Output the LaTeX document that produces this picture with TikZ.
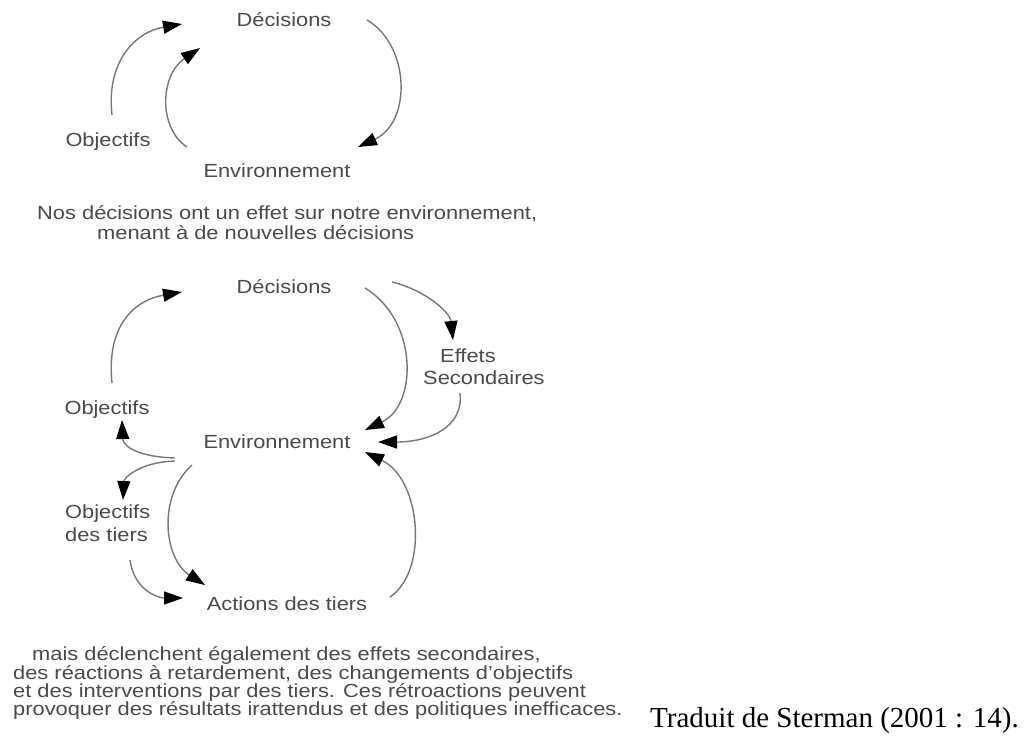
\documentclass[tikz,border=0pt]{standalone}
\usepackage{fontspec}
\usetikzlibrary{arrows.meta}
\newfontfamily\labfont{Liberation Sans}[FakeStretch=1.15]
\newfontfamily\reffont{Liberation Serif}
\definecolor{txtgray}{HTML}{4A4A4A}
\definecolor{linegray}{HTML}{777777}
\tikzset{
  lab/.style={font=\labfont\fontsize{19pt}{20pt}\selectfont, text=txtgray, inner sep=0pt},
  para/.style={lab, anchor=base west},
  flow/.style={draw=linegray, line width=1.4pt,
    -{Triangle[length=19pt,width=13pt,color=black]}},
}
\begin{document}
\begin{tikzpicture}[x=1pt,y=-1pt]
\useasboundingbox[fill=white] (0,0) rectangle (1025,740);

% ---- first loop ----
\node[lab, anchor=base] (dec1) at (284,26) {Décisions};
\node[lab, anchor=base] (obj1) at (108,146) {Objectifs};
\node[lab, anchor=base] (env1) at (277,177) {Environnement};

\coordinate (o1s) at (112,115);  \coordinate (o1e) at (182,24);
\coordinate (e1s) at (187,147);  \coordinate (e1e) at (200,48);
\coordinate (d1s) at (367,20);   \coordinate (d1e) at (358,147);
\draw[flow] (o1s) .. controls (106,62) and (135,32) .. (o1e);
\draw[flow] (e1s) .. controls (158,128) and (160,75) .. (e1e);
\draw[flow] (d1s) .. controls (410,45) and (412,122) .. (d1e);

\node[lab, anchor=base west] (cap1) at (37,219) {Nos décisions ont un effet sur notre environnement,};
\node[lab, anchor=base west] (cap2) at (97,239) {menant à de nouvelles décisions};

% ---- second loop ----
\node[lab, anchor=base] (dec2) at (284,293) {Décisions};
% base anchor of a two-line node sits on its last line
\node[lab, anchor=base west, align=left] (eff) at (423,384) {\hspace*{17pt}Effets\\[2pt]Secondaires};
\node[lab, anchor=base] (obj2) at (107,414) {Objectifs};
\node[lab, anchor=base] (env2) at (277,448) {Environnement};
\node[lab, anchor=base west, align=left] (objt) at (65,541) {Objectifs\\[3pt]des tiers};
\node[lab, anchor=base] (act) at (287,610) {Actions des tiers};

\coordinate (o2s) at (112,383);  \coordinate (o2e) at (182,292);
\coordinate (d2s) at (365,288);  \coordinate (d2e) at (365,430);
\coordinate (d3s) at (392,282);  \coordinate (d3e) at (453,340);
\coordinate (f2s) at (460,393);  \coordinate (f2e) at (378,442);
\coordinate (jn1) at (175,458);  \coordinate (jn2) at (175,461);
\coordinate (o3e) at (122,420);  \coordinate (t3e) at (123,500);
\coordinate (a2s) at (192,465);  \coordinate (a2e) at (205,585);
\coordinate (t4s) at (130,560);  \coordinate (t4e) at (183,598);
\coordinate (c2s) at (390,597);  \coordinate (c2e) at (365,452);

\draw[flow] (o2s) .. controls (106,325) and (135,300) .. (o2e);
\draw[flow] (d2s) .. controls (418,320) and (418,405) .. (d2e);
\draw[flow] (d3s) .. controls (425,290) and (450,312) .. (d3e);
\draw[flow] (f2s) .. controls (464,428) and (428,442) .. (f2e);
\draw[flow] (jn1) .. controls (140,457) and (123,447) .. (o3e);
\draw[flow] (jn2) .. controls (140,462) and (124,478) .. (t3e);
\draw[flow] (a2s) .. controls (158,495) and (163,558) .. (a2e);
\draw[flow] (t4s) .. controls (134,590) and (158,598) .. (t4e);
\draw[flow] (c2s) .. controls (428,572) and (422,480) .. (c2e);

% ---- commentary ----
\node[para] (p1) at (32,660) {mais déclenchent également des effets secondaires,};
\node[para] (p2) at (13,679) {des réactions à retardement, des changements d’objectifs};
\node[para] (p3) at (13,697) {et des interventions par des tiers. Ces rétroactions peuvent};
\node[para] (p4) at (13,715) {provoquer des résultats irattendus et des politiques inefficaces.};
\node[font=\reffont\fontsize{29pt}{30pt}\selectfont, anchor=base west, inner sep=0pt] (src) at (650,727) {Traduit de Sterman (2001 : 14).};
\end{tikzpicture}
\end{document}
